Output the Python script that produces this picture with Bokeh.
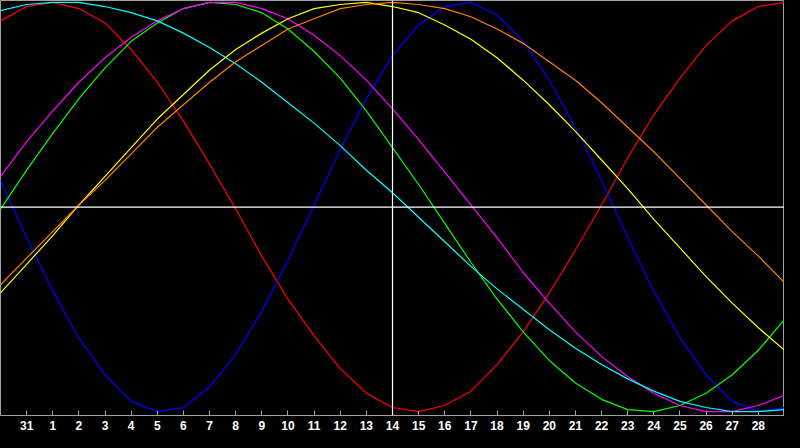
from bokeh.plotting import figure
from bokeh.models import Range1d, Span, FixedTicker, GlobalInlineStyleSheet
from bokeh.embed import file_html
from bokeh.resources import INLINE

# chart day positions (index 0 = the 31st of the previous month)
day_index = list(range(-1, 30))
tick_positions = list(range(0, 29))
tick_labels = ["31", "1", "2", "3", "4", "5", "6", "7", "8", "9", "10", "11", "12", "13",
               "14", "15", "16", "17", "18", "19", "20", "21", "22", "23", "24", "25",
               "26", "27", "28"]
today_index = 14

# cycle values in percent, one per day
red = [91, 98, 100, 97, 90, 77, 61, 42, 21, -1, -24, -45, -63, -79, -91, -98, -100, -97,
       -90, -77, -61, -42, -21, 1, 24, 45, 63, 79, 91, 98, 100]
blue = [13, -15, -41, -64, -82, -95, -100, -98, -88, -72, -51, -26, 1, 28, 53, 74, 89, 98,
        100, 94, 81, 62, 39, 13, -15, -41, -64, -82, -95, -100, -98]
green = [-1, 18, 36, 53, 68, 81, 90, 97, 100, 99, 95, 87, 76, 63, 47, 29, 11, -8, -27, -45,
         -61, -75, -86, -94, -99, -100, -97, -91, -82, -70, -55]
magenta = [15, 32, 47, 61, 73, 83, 91, 97, 100, 100, 97, 92, 84, 74, 62, 48, 33, 17, 1, -15,
           -32, -47, -61, -73, -83, -91, -97, -100, -100, -97, -92]
cyan = [96, 99, 100, 100, 98, 95, 91, 85, 78, 70, 61, 51, 41, 30, 18, 7, -5, -17, -29, -40,
        -50, -60, -69, -77, -84, -90, -95, -98, -100, -100, -99]
yellow = [-42, -28, -14, 1, 15, 29, 43, 55, 67, 77, 85, 92, 97, 99, 100, 98, 95, 89, 82, 73,
          62, 50, 37, 23, 9, -6, -20, -34, -47, -59, -70]
orange = [-38, -25, -12, 1, 13, 26, 39, 50, 61, 71, 79, 87, 92, 97, 99, 100, 99, 97, 93, 87,
          80, 71, 62, 51, 39, 27, 14, 1, -12, -24, -37]

series = [
    (red, "#FF0000"),
    (blue, "#0000FF"),
    (green, "#00FF00"),
    (magenta, "#FF00FF"),
    (cyan, "#00FFFF"),
    (yellow, "#FFFF00"),
    (orange, "#FF8000"),
]

p = figure(width=784, height=432, output_backend="svg", toolbar_location=None,
           x_range=Range1d(-1, 29), y_range=Range1d(-101.9, 100.95),
           y_axis_location=None, min_border=0,
           background_fill_color="black", border_fill_color="black",
           outline_line_color="#A0A0A0", outline_line_width=1)
p.xgrid.visible = False
p.ygrid.visible = False
p.stylesheets = [GlobalInlineStyleSheet(css="html, body { background: #000000; }")]

ax = p.xaxis[0]
ax.ticker = FixedTicker(ticks=tick_positions)
ax.major_label_overrides = {t: lab for t, lab in zip(tick_positions, tick_labels)}
ax.axis_line_color = "#A0A0A0"
ax.major_tick_line_color = "#A0A0A0"
ax.major_tick_in = 5
ax.major_tick_out = 0
ax.minor_tick_line_color = None
ax.major_label_text_color = "white"
ax.major_label_text_font = "Liberation Sans"
ax.major_label_text_font_style = "bold"
ax.major_label_text_font_size = "12px"
ax.major_label_standoff = 5

for vals, col in series:
    p.line(day_index, vals, line_color=col, line_width=1.2)

p.add_layout(Span(location=0, dimension="width", line_color="white", line_width=1.2))
p.add_layout(Span(location=today_index, dimension="height", line_color="white", line_width=1.2))

open("out.html", "w").write(file_html(p, INLINE))
